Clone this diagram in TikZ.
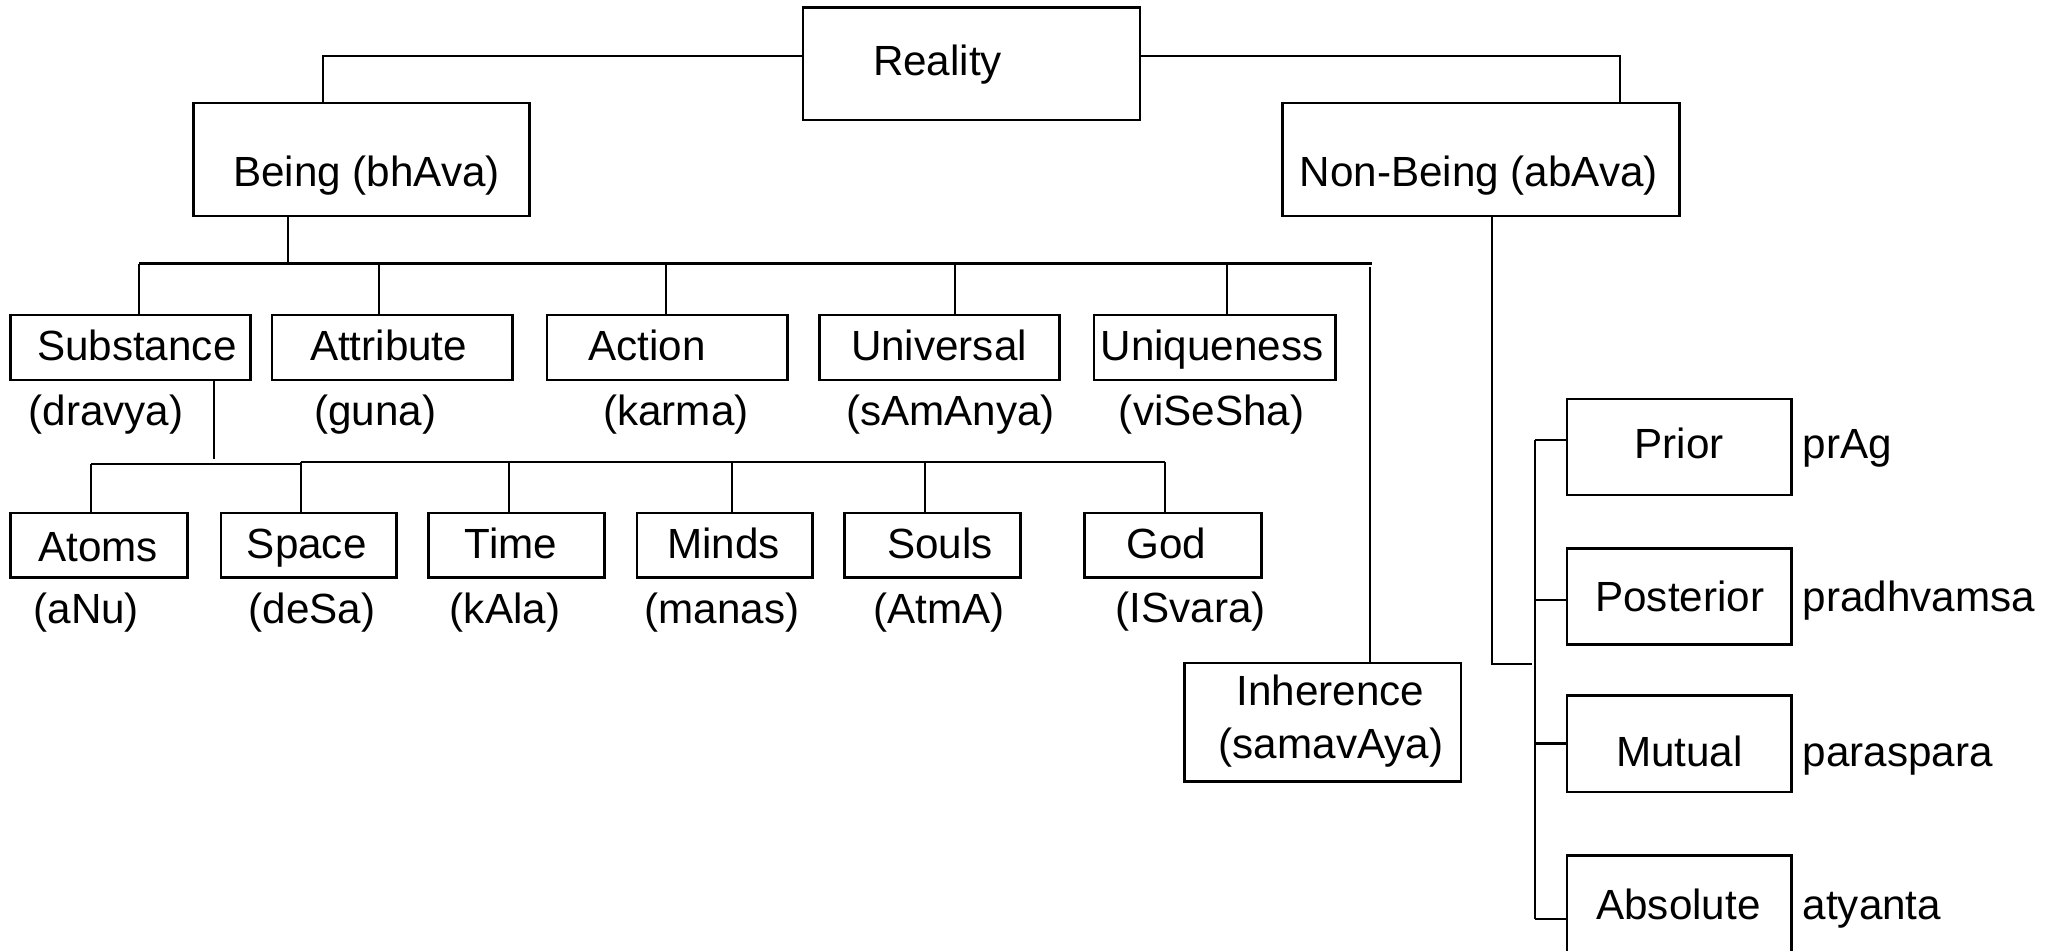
\documentclass[tikz,border=0pt]{standalone}
\usepackage{fontspec}
\setmainfont{Liberation Sans}
\usetikzlibrary{fit}
\begin{document}
\begin{tikzpicture}[x=0.01cm,y=-0.01cm,
  box/.style={draw=black,line width=0.75pt,rectangle,inner sep=0pt},
  conn/.style={draw=black,line width=0.6pt},
  txt/.style={inner sep=0pt,anchor=base,font=\fontsize{12}{14}\selectfont},
  side/.style={txt,anchor=base west}]
\useasboundingbox (0,0) rectangle (2047,950);
\clip (0,0) rectangle (2047,950);
\fill[white] (0,0) rectangle (2047,950);

% top levels
\node[box,fit={(803,7.5) (1140,120)}] (reality) {};
\node[box,fit={(193.6,103) (529.6,216)}] (being) {};
\node[box,fit={(1282.4,103) (1679.8,216)}] (nonbeing) {};

% categories of being
\node[box,fit={(10.5,315) (250.4,380)}] (substance) {};
\node[box,fit={(272,315) (512.8,380)}] (attribute) {};
\node[box,fit={(547,315) (787.8,380)}] (action) {};
\node[box,fit={(819.4,315) (1059.3,380)}] (universal) {};
\node[box,fit={(1094,315) (1335.5,380)}] (uniqueness) {};
\node[box,fit={(1184.5,663) (1461,781.5)}] (inherence) {};

% kinds of substance
\node[box,fit={(10.5,513) (187.3,577.3)}] (atoms) {};
\node[box,fit={(221,513) (396.4,577.3)}] (space) {};
\node[box,fit={(428.6,513) (604.7,577.3)}] (time) {};
\node[box,fit={(637,513) (812.4,577.3)}] (minds) {};
\node[box,fit={(844.6,513) (1020.7,577.3)}] (souls) {};
\node[box,fit={(1084.6,513) (1261.2,577.3)}] (god) {};

% kinds of non-being
\node[box,fit={(1567,399) (1791.5,495)}] (prior) {};
\node[box,fit={(1567,548.3) (1791.5,644.6)}] (posterior) {};
\node[box,fit={(1567,695.5) (1791.5,791.8)}] (mutual) {};
\node[box,fit={(1567,855.5) (1791.5,951.8)}] (absolute) {};

% texts
\node[txt] (t-reality) at (937.5,75) {Reality};
\node[txt] (t-being) at (366.5,186.7) {Being (bhAva)};
\node[txt] (t-nonbeing) at (1478.8,186.7) {Non-Being (abAva)};

\node[txt] (t-substance) at (136.8,360) {Substance};
\node[txt] (t-attribute) at (388.6,360) {Attribute};
\node[txt] (t-action) at (647,360) {Action};
\node[txt] (t-universal) at (939,360) {Universal};
\node[txt] (t-uniqueness) at (1212,360) {Uniqueness};

\node[txt] (l-dravya) at (106,425) {(dravya)};
\node[txt] (l-guna) at (375.4,425) {(guna)};
\node[txt] (l-karma) at (676,425) {(karma)};
\node[txt] (l-samanya) at (950.5,425) {(sAmAnya)};
\node[txt] (l-visesha) at (1211.6,425) {(viSeSha)};

\node[txt] (t-atoms) at (98.2,561.7) {Atoms};
\node[txt] (t-space) at (306.7,558.3) {Space};
\node[txt] (t-time) at (511,558.3) {Time};
\node[txt] (t-minds) at (723.3,558.3) {Minds};
\node[txt] (t-souls) at (940,558.3) {Souls};
\node[txt] (t-god) at (1166.5,558.3) {God};

\node[txt] (l-anu) at (86.3,623) {(aNu)};
\node[txt] (l-desa) at (312,623) {(deSa)};
\node[txt] (l-kala) at (505,623) {(kAla)};
\node[txt] (l-manas) at (722,623) {(manas)};
\node[txt] (l-atma) at (939,623) {(AtmA)};
\node[txt] (l-isvara) at (1190.6,622) {(ISvara)};

\node[txt] (t-inh1) at (1330.4,705.3) {Inherence};
\node[txt] (t-inh2) at (1331,758.3) {(samavAya)};

\node[txt] (t-prior) at (1679,458.2) {Prior};
\node[txt] (t-posterior) at (1679.8,611.5) {Posterior};
\node[txt] (t-mutual) at (1679.5,766) {Mutual};
\node[txt] (t-absolute) at (1678.4,919.3) {Absolute};

\node[side] (s-prag) at (1802,458.2) {prAg};
\node[side] (s-pradhvamsa) at (1802,611.5) {pradhvamsa};
\node[side] (s-paraspara) at (1802,766) {paraspara};
\node[side] (s-atyanta) at (1802,919.3) {atyanta};

% Reality branches
\coordinate (rl) at (323,56);
\coordinate (rr) at (1620,56);
\draw[conn] (reality.west |- rl) -| (being.north -| rl);
\draw[conn] (reality.east |- rr) -| (nonbeing.north -| rr);

% Being bus
\coordinate (bstem) at (287.6,263.5);
\coordinate (d1) at (139,263.5);
\coordinate (d2) at (378.8,263.5);
\coordinate (d3) at (666.4,263.5);
\coordinate (d4) at (954.8,263.5);
\coordinate (d5) at (1226.8,263.5);
\coordinate (bend) at (1371.5,263.5);
\coordinate (ih) at (1370,266.7);
\draw[conn] (being.south -| bstem) -- (bstem);
\draw[conn] (d1) -- (bend);
\draw[conn] (d1) -- (substance.north -| d1);
\draw[conn] (d2) -- (attribute.north -| d2);
\draw[conn] (d3) -- (action.north -| d3);
\draw[conn] (d4) -- (universal.north -| d4);
\draw[conn] (d5) -- (uniqueness.north -| d5);
\draw[conn] (ih) -- (inherence.north -| ih);

% Substance bus
\coordinate (sstem) at (213.7,459.3);
\coordinate (e1) at (91.2,464.3);
\coordinate (ej) at (300.7,464.3);
\coordinate (e2) at (300.7,462.3);
\coordinate (e3) at (508.6,462.3);
\coordinate (e4) at (732.4,462.3);
\coordinate (e5) at (924.6,462.3);
\coordinate (e6) at (1164.7,462.3);
\draw[conn] (substance.south -| sstem) -- (sstem);
\draw[conn] (e1) -- (ej);
\draw[conn] (e2) -- (e6);
\draw[conn] (e1) -- (atoms.north -| e1);
\draw[conn] (e2) -- (space.north -| e2);
\draw[conn] (e3) -- (time.north -| e3);
\draw[conn] (e4) -- (minds.north -| e4);
\draw[conn] (e5) -- (souls.north -| e5);
\draw[conn] (e6) -- (god.north -| e6);

% Non-Being bus
\coordinate (nj) at (1492.3,663.7);
\coordinate (njend) at (1532.3,663.7);
\coordinate (ntop) at (1535,440);
\coordinate (n2) at (1535,600);
\coordinate (n3) at (1535,743.5);
\coordinate (nbot) at (1535,919.3);
\draw[conn] (nonbeing.south -| nj) -- (nj) -- (njend);
\draw[conn] (ntop) -- (nbot);
\draw[conn] (ntop) -- (prior.west |- ntop);
\draw[conn] (n2) -- (posterior.west |- n2);
\draw[conn] (n3) -- (mutual.west |- n3);
\draw[conn] (nbot) -- (absolute.west |- nbot);
\end{tikzpicture}
\end{document}
